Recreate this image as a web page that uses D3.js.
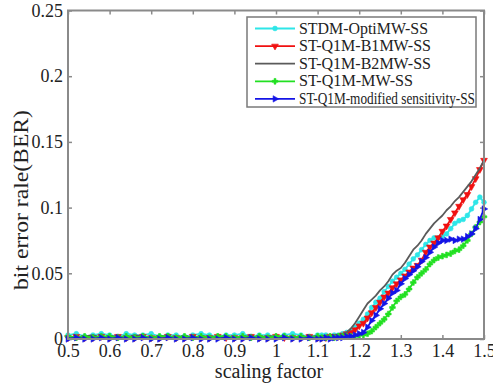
<!DOCTYPE html>
<html><head><meta charset="utf-8">
<script src="https://cdn.jsdelivr.net/npm/d3@7"></script>
<style>
body{margin:0;background:#fff}
svg{display:block}
text{font-family:"Liberation Serif","Times New Roman",serif;fill:#222}
</style>
</head><body>
<svg id="c" width="493" height="383"></svg>
<script>
const xValues = [0.50,0.52,0.54,0.56,0.58,0.60,0.62,0.64,0.66,0.68,0.70,0.72,0.74,0.76,0.78,0.80,0.82,0.84,0.86,0.88,0.90,0.92,0.94,0.96,0.98,1.00,1.02,1.04,1.06,1.08,1.10,
  1.11,1.12,1.13,1.14,1.15,1.16,1.17,1.18,1.19,1.20,1.21,1.22,1.23,1.24,1.25,1.26,1.27,1.28,1.29,1.30,
  1.31,1.32,1.33,1.34,1.35,1.36,1.37,1.38,1.39,1.40,1.41,1.42,1.43,1.44,1.45,1.46,1.47,1.48,1.49,1.50];

const stdmOptiMW = [.003,.004,.002,.003,.004,.003,.002,.004,.003,.003,.004,.002,.003,.003,.002,.003,.004,.003,.002,.003,.003,.004,.002,.003,.003,.002,.003,.004,.003,.002,.003,
  .003,.003,.002,.003,.003,.004,.005,.006,.009,.012,.015,.019,.024,.028,.031,.036,.040,.044,.047,.050,
  .053,.057,.061,.064,.068,.072,.075,.077,.077,.078,.080,.084,.088,.090,.091,.094,.099,.104,.108,.104];

const q1mB1MW = [.001,.002,.001,.001,.002,.001,.002,.001,.001,.002,.001,.001,.002,.001,.001,.002,.001,.001,.002,.001,.001,.001,.002,.001,.001,.002,.001,.001,.001,.002,.001,
  .001,.001,.002,.002,.002,.003,.004,.005,.007,.010,.012,.016,.020,.024,.028,.032,.035,.039,.042,.045,
  .048,.051,.054,.056,.060,.066,.070,.073,.077,.082,.086,.091,.096,.101,.106,.110,.116,.122,.129,.136];

const q1mB2MW = [.002,.001,.002,.003,.001,.002,.002,.001,.003,.002,.001,.002,.002,.001,.002,.001,.002,.002,.001,.002,.001,.002,.002,.001,.002,.002,.001,.002,.001,.002,.002,
  .002,.002,.002,.003,.003,.004,.005,.008,.012,.017,.022,.027,.030,.033,.037,.040,.044,.049,.052,.054,
  .058,.063,.068,.071,.075,.080,.084,.088,.091,.094,.098,.101,.105,.108,.112,.116,.120,.125,.130,.136];

const q1mMW = [.002,.001,.002,.001,.002,.002,.001,.002,.001,.002,.001,.002,.002,.001,.002,.001,.002,.001,.002,.002,.001,.002,.001,.002,.001,.002,.002,.001,.002,.001,.002,
  .001,.001,.002,.001,.002,.002,.002,.002,.002,.003,.003,.004,.006,.009,.012,.015,.019,.024,.029,.032,
  .034,.038,.043,.047,.050,.053,.057,.060,.062,.063,.064,.065,.067,.068,.071,.075,.080,.085,.089,.093];

const q1mModSens = [.000,.001,.000,.000,.001,.000,.001,.000,.000,.001,.000,.000,.001,.000,.000,.001,.000,.000,.000,.001,.000,.000,.001,.000,.000,.000,.001,.000,.000,.001,.000,
  .000,.001,.000,.001,.001,.001,.002,.002,.003,.004,.005,.009,.014,.018,.023,.027,.031,.035,.037,.042,
  .046,.049,.052,.055,.059,.062,.066,.070,.073,.075,.075,.076,.075,.076,.076,.078,.080,.084,.091,.099];

const seriesNames = ["STDM-OptiMW-SS","ST-Q1M-B1MW-SS","ST-Q1M-B2MW-SS","ST-Q1M-MW-SS","ST-Q1M-modified sensitivity-SS"];
const xTickValues = [0.5,0.6,0.7,0.8,0.9,1.0,1.1,1.2,1.3,1.4,1.5];
const xTickLabels = ["0.5","0.6","0.7","0.8","0.9","1","1.1","1.2","1.3","1.4","1.5"];
const yTickValues = [0,0.05,0.1,0.15,0.2,0.25];
const yTickLabels = ["0","0.05","0.1","0.15","0.2","0.25"];

const series = [
  {name:seriesNames[0], values:stdmOptiMW, color:"#2ee6e8", marker:"circle"},
  {name:seriesNames[1], values:q1mB1MW, color:"#f01010", marker:"down"},
  {name:seriesNames[2], values:q1mB2MW, color:"#5a5a5a", marker:"none"},
  {name:seriesNames[3], values:q1mMW, color:"#22e022", marker:"plus"},
  {name:seriesNames[4], values:q1mModSens, color:"#1414e6", marker:"right"}
];
const legendWidths = [129,132,132,114,176];

const svg = d3.select("#c");
const L=68, R=484, T=10.5, B=339;
const x = d3.scaleLinear().domain([0.5,1.5]).range([L,R]);
const y = d3.scaleLinear().domain([0,0.25]).range([B,T]);

function markerPath(type){
  if(type==="circle") return d3.symbol().type(d3.symbolCircle).size(18)();
  if(type==="down") return d3.symbol().type(d3.symbolTriangle).size(20)();
  if(type==="right") return d3.symbol().type(d3.symbolTriangle).size(18)();
  if(type==="plus") return d3.symbol().type(d3.symbolCross).size(18)();
  return null;
}
function markerRot(type){ return type==="down"?180:(type==="right"?90:0); }

// axes
const gx = svg.append("g").attr("transform",`translate(0,${B})`)
  .call(d3.axisBottom(x).tickValues(xTickValues).tickFormat((d,i)=>xTickLabels[i]).tickSizeInner(-4).tickSizeOuter(0).tickPadding(5));
const gy = svg.append("g").attr("transform",`translate(${L},0)`)
  .call(d3.axisLeft(y).tickValues(yTickValues).tickFormat((d,i)=>yTickLabels[i]).tickSizeInner(-4).tickSizeOuter(0).tickPadding(5));
const gt = svg.append("g").attr("transform",`translate(0,${T})`)
  .call(d3.axisTop(x).tickValues(xTickValues).tickFormat("").tickSizeInner(-4).tickSizeOuter(0));
const gr = svg.append("g").attr("transform",`translate(${R},0)`)
  .call(d3.axisRight(y).tickValues(yTickValues).tickFormat("").tickSizeInner(-4).tickSizeOuter(0));
[gx,gy,gt,gr].forEach(g=>{
  g.select(".domain").remove();
  g.selectAll(".tick line").attr("stroke","#8a8a8a").attr("stroke-width",1.5);
  g.selectAll(".tick text").style("font-size","18px").style("font-family","'Liberation Serif',serif").attr("fill","#222");
});

// data
const line = d3.line().x((d,i)=>x(xValues[i])).y(d=>y(d));
series.forEach(s=>{
  svg.append("path").datum(s.values).attr("d",line)
    .attr("fill","none").attr("stroke",s.color).attr("stroke-width",1.8).attr("stroke-linejoin","round");
  const p = markerPath(s.marker);
  if(p){
    svg.append("g").selectAll("path").data(s.values).join("path")
      .attr("d",p)
      .attr("transform",(d,i)=>`translate(${x(xValues[i])},${y(d)}) rotate(${markerRot(s.marker)})`)
      .attr("fill",s.color).attr("stroke",s.color).attr("stroke-width",0.6);
  }
});

// frame
svg.append("rect").attr("x",L).attr("y",T).attr("width",R-L).attr("height",B-T)
  .attr("fill","none").attr("stroke","#8a8a8a").attr("stroke-width",2);

// axis labels
svg.append("text").attr("x",269).attr("y",378).attr("text-anchor","middle")
  .style("font-size","20px").text("scaling factor");
svg.append("text").attr("transform","translate(28,200) rotate(-90)").attr("text-anchor","middle")
  .attr("textLength",180).attr("lengthAdjust","spacingAndGlyphs")
  .style("font-size","20px").text("bit error rale(BER)");

// legend
const lg = svg.append("g");
lg.append("rect").attr("x",247).attr("y",17).attr("width",229).attr("height",90)
  .attr("fill","#fff").attr("stroke","#7a7a7a").attr("stroke-width",1.5);
series.forEach((s,i)=>{
  const cy = 28.5 + i*17.6;
  lg.append("line").attr("x1",255).attr("x2",295).attr("y1",cy).attr("y2",cy)
    .attr("stroke",s.color).attr("stroke-width",1.8);
  const p = markerPath(s.marker);
  if(p) lg.append("path").attr("d",p).attr("transform",`translate(275,${cy}) rotate(${markerRot(s.marker)})`)
    .attr("fill",s.color).attr("stroke",s.color).attr("stroke-width",0.6);
  lg.append("text").attr("x",299).attr("y",cy+5).style("font-size","16px")
    .attr("textLength",legendWidths[i]).attr("lengthAdjust","spacingAndGlyphs").text(s.name);
});
</script>
</body></html>
